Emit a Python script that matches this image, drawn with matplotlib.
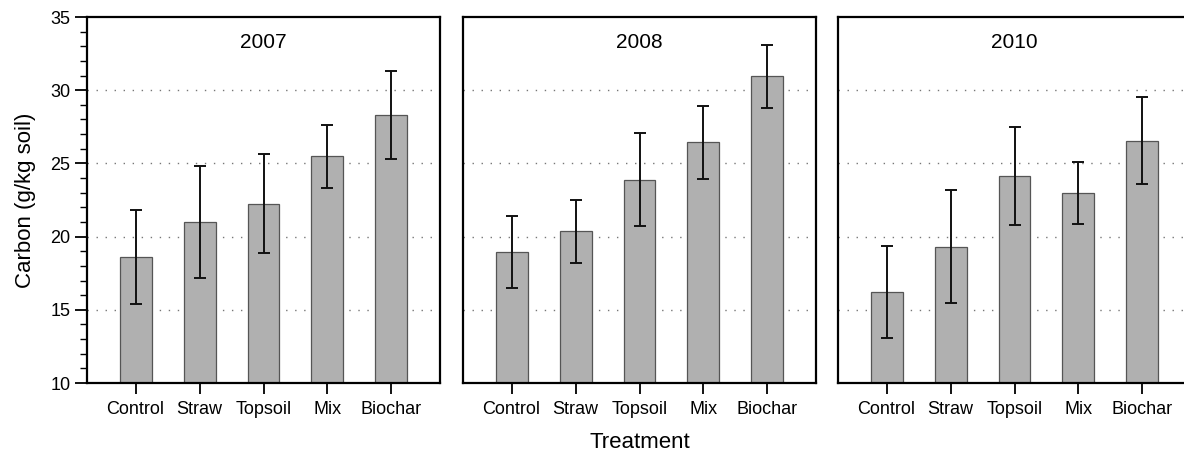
import matplotlib
matplotlib.use("Agg")
import matplotlib.pyplot as plt
from matplotlib.ticker import MultipleLocator

plt.rcParams['font.family'] = ['Liberation Sans', 'DejaVu Sans']

treatments = ["Control", "Straw", "Topsoil", "Mix", "Biochar"]
years = ["2007", "2008", "2010"]
means_2007 = [18.6, 21.0, 22.25, 25.5, 28.3]
errs_2007 = [3.2, 3.85, 3.4, 2.15, 3.0]
means_2008 = [18.95, 20.35, 23.9, 26.45, 30.95]
errs_2008 = [2.45, 2.15, 3.2, 2.5, 2.15]
means_2010 = [16.2, 19.3, 24.15, 22.95, 26.55]
errs_2010 = [3.15, 3.85, 3.37, 2.12, 2.96]
yticks = [10, 15, 20, 25, 30, 35]
gridvals = [15, 20, 25, 30]

means = [means_2007, means_2008, means_2010]
errs = [errs_2007, errs_2008, errs_2010]

fig = plt.figure(figsize=(11.84, 4.54), dpi=100)
W, H = 1184, 454
lefts = [87, 463, 838]
pw, bottom_px, top_px = 353, 383, 17

x = list(range(len(treatments)))
for i, (yr, m, e) in enumerate(zip(years, means, errs)):
    ax = fig.add_axes([lefts[i] / W, (H - bottom_px) / H, pw / W, (bottom_px - top_px) / H])
    for g in gridvals:
        ax.axhline(g, color='#777777', linestyle=(0, (1, 5.5)), linewidth=1.0, zorder=0)
    ax.bar(x, m, width=0.5, bottom=0, color='#b0b0b0', edgecolor='#555555',
           linewidth=0.9, zorder=2)
    ax.errorbar(x, m, yerr=e, fmt='none', ecolor='#111111', elinewidth=1.4,
                capsize=4.5, capthick=1.4, zorder=3)
    ax.set_xlim(-0.76, 4.76)
    ax.set_ylim(10, 35)
    ax.set_xticks(x)
    ax.set_xticklabels(treatments, fontsize=13)
    ax.tick_params(axis='x', direction='out', length=8, width=1.3, pad=5)
    for s in ax.spines.values():
        s.set_linewidth(1.6)
        s.set_color('black')
    ax.text(0.5, 0.93, yr, transform=ax.transAxes, ha='center', va='center', fontsize=15)
    if i == 0:
        ax.set_yticks(yticks)
        ax.set_yticklabels([str(v) for v in yticks], fontsize=13)
        ax.yaxis.set_minor_locator(MultipleLocator(1))
        ax.tick_params(axis='y', which='major', direction='out', length=9, width=1.3, pad=3)
        ax.tick_params(axis='y', which='minor', direction='out', length=5, width=1.0)
        ax.set_ylabel("Carbon (g/kg soil)", fontsize=16, labelpad=10)
    else:
        ax.set_yticks([])
    if i == 1:
        ax.set_xlabel("Treatment", fontsize=16, labelpad=10)

fig.savefig("out.png", dpi=100)
